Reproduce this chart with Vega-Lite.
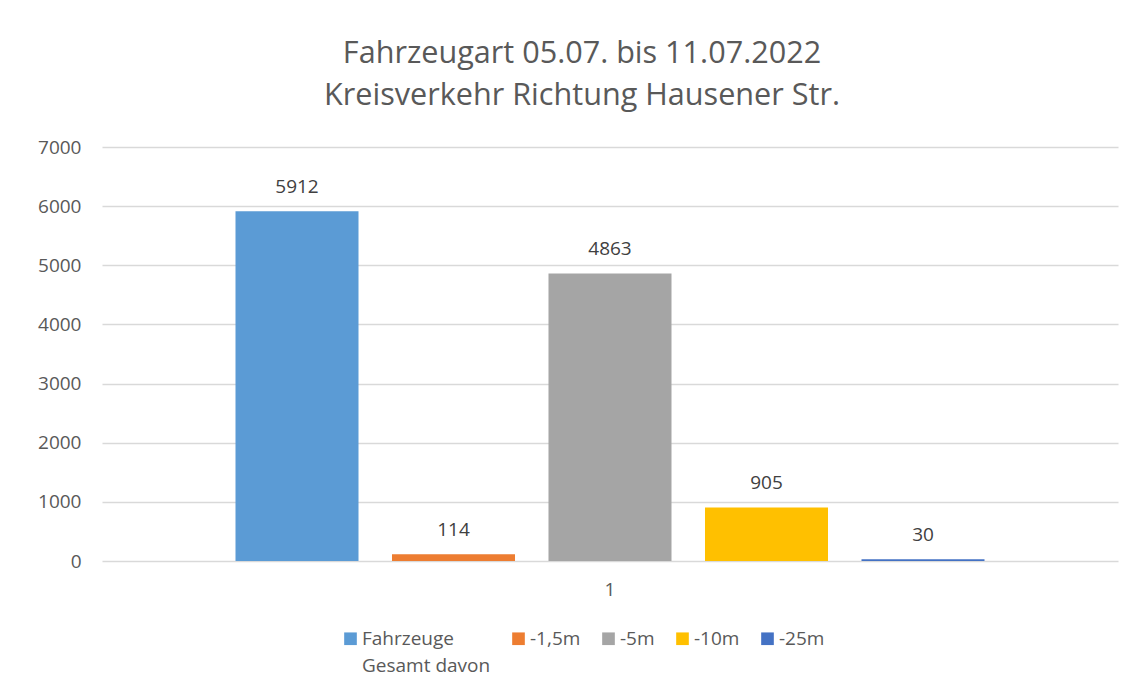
{
  "$schema": "https://vega.github.io/schema/vega-lite/v6.json",
  "width": 1016,
  "height": 414,
  "autosize": {"type": "none"},
  "padding": {"left": 102, "top": 147, "right": 7, "bottom": 136},
  "background": "white",
  "config": {
    "view": {"stroke": null},
    "style": {"guide-label": {"lineHeight": 27}}
  },
  "title": {
    "text": ["Fahrzeugart 05.07. bis 11.07.2022", "Kreisverkehr Richtung Hausener Str."],
    "anchor": "middle",
    "dx": -28,
    "font": "Open Sans",
    "fontSize": 30.6,
    "fontWeight": "normal",
    "color": "#595959",
    "lineHeight": 42,
    "offset": 26
  },
  "data": {
    "values": [
      {"Gruppe": "1", "Kategorie": "Fahrzeuge Gesamt davon", "Wert": 5912},
      {"Gruppe": "1", "Kategorie": "-1,5m", "Wert": 114},
      {"Gruppe": "1", "Kategorie": "-5m", "Wert": 4863},
      {"Gruppe": "1", "Kategorie": "-10m", "Wert": 905},
      {"Gruppe": "1", "Kategorie": "-25m", "Wert": 30}
    ]
  },
  "encoding": {
    "x": {
      "field": "Gruppe",
      "type": "nominal",
      "scale": {"paddingInner": 0, "paddingOuter": 0},
      "axis": {
        "title": null,
        "domain": false,
        "ticks": false,
        "grid": false,
        "labelAngle": 0,
        "labelFont": "Open Sans",
        "labelFontSize": 19,
        "labelColor": "#595959",
        "labelPadding": 19
      }
    },
    "xOffset": {
      "field": "Kategorie",
      "type": "nominal",
      "sort": ["Fahrzeuge Gesamt davon", "-1,5m", "-5m", "-10m", "-25m"],
      "scale": {"paddingInner": 0.214, "paddingOuter": 0.853}
    },
    "y": {
      "field": "Wert",
      "type": "quantitative",
      "scale": {"domain": [0, 7000], "nice": false},
      "axis": {
        "title": null,
        "values": [0, 1000, 2000, 3000, 4000, 5000, 6000, 7000],
        "format": "d",
        "domain": false,
        "ticks": false,
        "gridColor": "#D9D9D9",
        "gridWidth": 1.3,
        "labelFont": "Open Sans",
        "labelFontSize": 19,
        "labelColor": "#595959",
        "labelPadding": 21
      }
    }
  },
  "layer": [
    {
      "mark": {"type": "bar"},
      "encoding": {
        "color": {
          "field": "Kategorie",
          "type": "nominal",
          "scale": {
            "domain": ["Fahrzeuge Gesamt davon", "-1,5m", "-5m", "-10m", "-25m"],
            "range": ["#5B9BD5", "#ED7D31", "#A5A5A5", "#FFC000", "#4472C4"]
          },
          "legend": {
            "orient": "none",
            "legendX": 239,
            "legendY": 482,
            "direction": "horizontal",
            "columns": 5,
            "title": null,
            "symbolType": "square",
            "symbolSize": 160,
            "symbolStrokeWidth": 0,
            "labelFont": "Open Sans",
            "labelFontSize": 19,
            "labelColor": "#595959",
            "labelOffset": 2,
            "columnPadding": 18,
            "labelLimit": 300,
            "labelBaseline": "top",
            "labelExpr": "datum.label == 'Fahrzeuge Gesamt davon' ? ['Fahrzeuge', 'Gesamt davon'] : [datum.label, ' ']",
            "encode": {"labels": {"update": {"dy": {"value": -9}}}}
          }
        }
      }
    },
    {
      "mark": {
        "type": "text",
        "dy": -24,
        "baseline": "middle",
        "font": "Open Sans",
        "fontSize": 19,
        "color": "#404040"
      },
      "encoding": {
        "text": {"field": "Wert", "type": "quantitative"}
      }
    }
  ]
}
